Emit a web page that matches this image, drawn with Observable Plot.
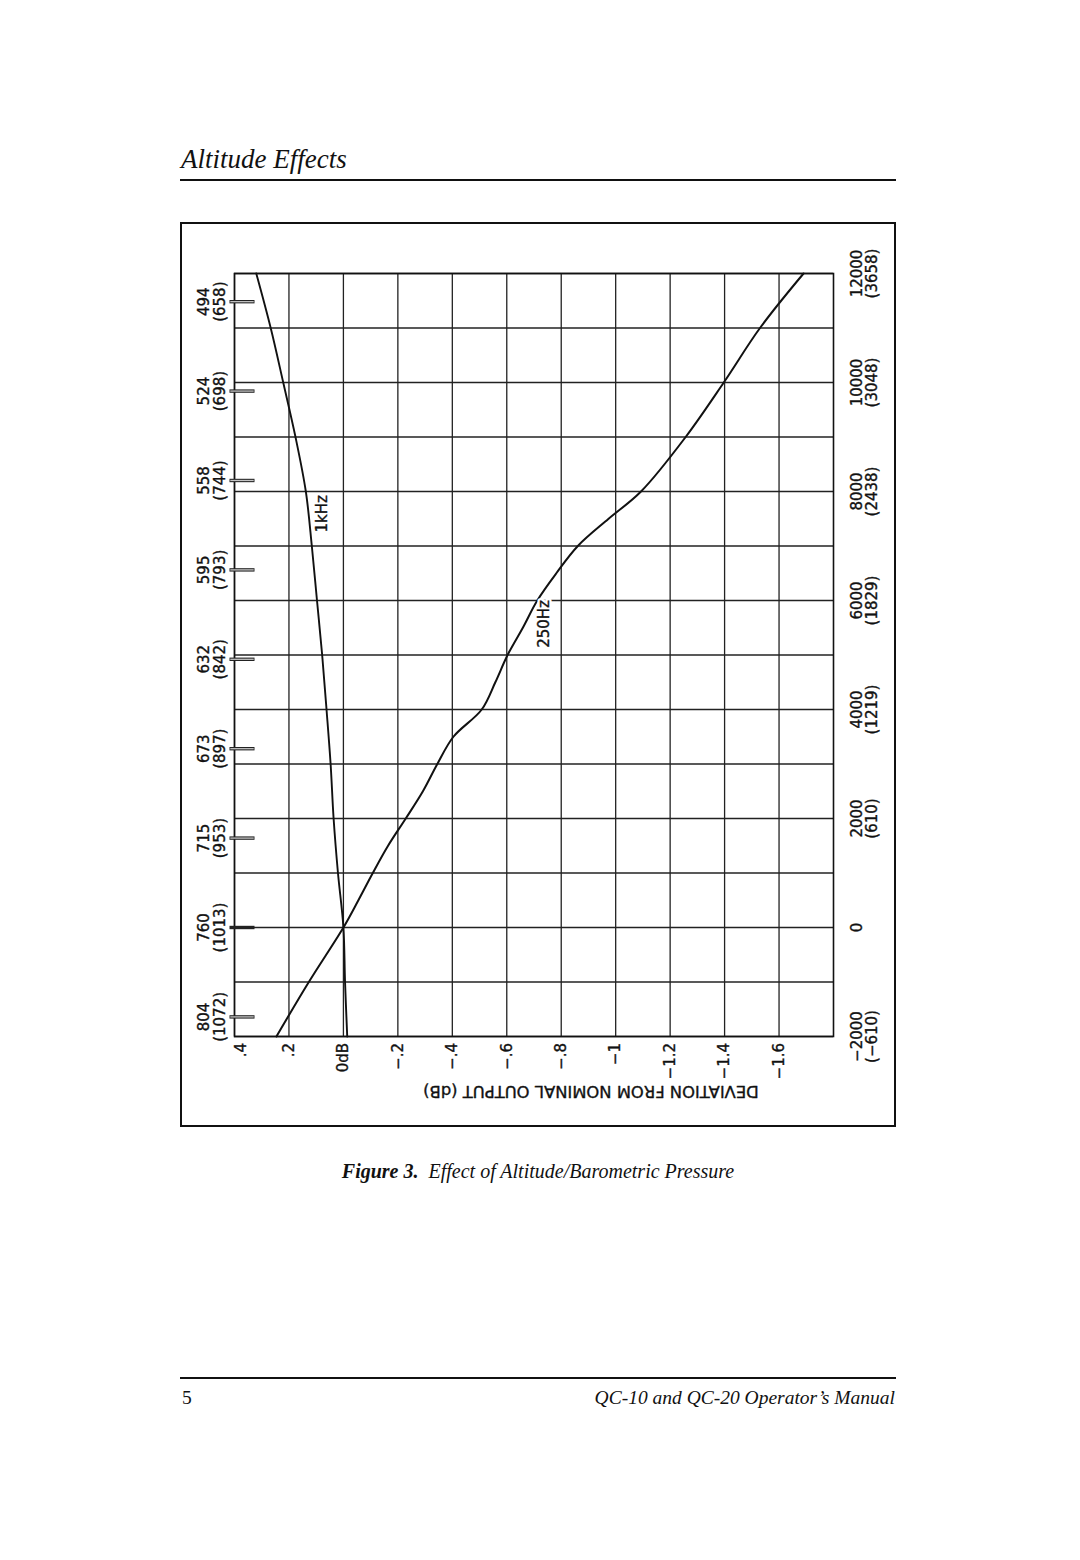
<!DOCTYPE html>
<html>
<head>
<meta charset="utf-8">
<script src="https://cdn.jsdelivr.net/npm/d3@7"></script>
<script src="https://cdn.jsdelivr.net/npm/@observablehq/plot@0.6"></script>
<style>
html, body { margin: 0; padding: 0; background: #fff; }
#page { position: relative; width: 1080px; height: 1560px; background: #fff; overflow: hidden; }
.serif { font-family: "Liberation Serif", "Times New Roman", serif; color: #111; }
#title { position: absolute; left: 181px; top: 145px; font-size: 27px; line-height: 28px; font-style: italic; white-space: nowrap; }
.rule { position: absolute; left: 180px; width: 716px; height: 2px; background: #111; }
#frame { position: absolute; left: 180px; top: 222px; width: 716px; height: 905px; border: 2px solid #111; box-sizing: border-box; }
#frame svg { position: absolute; left: 0; top: 0; }
#caption { position: absolute; left: 180px; width: 716px; top: 1161px; text-align: center; font-size: 20px; line-height: 20px; font-style: italic; white-space: nowrap; }
#pagenum { position: absolute; left: 182px; top: 1388px; font-size: 19.5px; line-height: 20px; }
#manual { position: absolute; right: 185px; top: 1388px; font-size: 19.5px; line-height: 20px; font-style: italic; white-space: nowrap; }
</style>
</head>
<body>
<div id="page">
  <div id="title" class="serif">Altitude Effects</div>
  <div class="rule" style="top:179px"></div>
  <div id="frame"></div>
  <div id="caption" class="serif"><b>Figure 3.</b>&nbsp; Effect of Altitude/Barometric Pressure</div>
  <div class="rule" style="top:1377px"></div>
  <div id="pagenum" class="serif">5</div>
  <div id="manual" class="serif">QC-10 and QC-20 Operator’s Manual</div>
</div>
<script>
// ---- Data ----
// Deviation axis (dB)
const devTicks = [0.4, 0.2, 0, -0.2, -0.4, -0.6, -0.8, -1, -1.2, -1.4, -1.6];
const devLabels = [".4", ".2", "0dB", "−.2", "−.4", "−.6", "−.8", "−1", "−1.2", "−1.4", "−1.6"];
const devTitle = "DEVIATION FROM NOMINAL OUTPUT (dB)";

// Altitude axis (feet) with metres in parentheses
const altGridFt = [-2000, -1000, 0, 1000, 2000, 3000, 4000, 5000, 6000, 7000, 8000, 9000, 10000, 11000, 12000];
const altTickFt = [-2000, 0, 2000, 4000, 6000, 8000, 10000, 12000];
const altTickM = [-610, null, 610, 1219, 1829, 2438, 3048, 3658];

// Barometric pressure ticks: mmHg (hPa) at altitudes in metres
const pressureM = [-500, 0, 500, 1000, 1500, 2000, 2500, 3000, 3500];
const pressureMmHg = [804, 760, 715, 673, 632, 595, 558, 524, 494];
const pressureHPa = [1072, 1013, 953, 897, 842, 793, 744, 698, 658];

// 1 kHz curve
const alt1k = [-2000, -1000, 0, 1000, 2000, 3000, 4000, 5000, 6000, 7000, 8000, 9000, 10000, 11000, 12000];
const dev1k = [-0.014, -0.006, 0, 0.020, 0.036, 0.047, 0.062, 0.078, 0.097, 0.116, 0.138, 0.176, 0.221, 0.267, 0.320];

// 250 Hz curve
const alt250 = [-2000, -1000, 0, 500, 1000, 1500, 2000, 2500, 3000, 3500, 4000, 4500, 5000, 5500, 6000, 6500, 7000, 7500, 8000, 9000, 10000, 11000, 12000];
const dev250 = [0.246, 0.127, 0, -0.055, -0.108, -0.164, -0.229, -0.292, -0.345, -0.404, -0.508, -0.558, -0.603, -0.659, -0.712, -0.782, -0.861, -0.974, -1.093, -1.257, -1.397, -1.530, -1.690];

// Curve labels
const curveNames = ["1kHz", "250Hz"];
const curveLabelAlt = [7590, 5570];
const curveLabelDev = [0.077, -0.739];

// ---- Tables built from the arrays ----
const FT_PER_M = 3.28084;
const pressureRows = pressureM.map((m, i) => ({ft: m * FT_PER_M, mmHg: pressureMmHg[i], hpa: pressureHPa[i]}));
const altRows = altTickFt.map((ft, i) => ({ft, label: altTickM[i] === null ? String(ft) : `${String(ft).replace("-", "−")}\n(${String(altTickM[i]).replace("-", "−")})`}));
const devRows = devTicks.map((d, i) => ({dev: d, label: devLabels[i]}));
const rows1k = alt1k.map((a, i) => ({alt: a, dev: dev1k[i]}));
const rows250 = alt250.map((a, i) => ({alt: a, dev: dev250[i]}));
const labelRows = curveNames.map((n, i) => ({name: n, alt: curveLabelAlt[i], dev: curveLabelDev[i]}));

const ink = "#111";
const heavy = {fill: ink, stroke: ink, strokeWidth: 0.35};
const chart = Plot.plot({
  width: 712,
  height: 901,
  marginLeft: 52,
  marginTop: 49,
  marginRight: 61,
  marginBottom: 89,
  x: {domain: [0.4, -1.8], axis: null},
  y: {domain: [-2000, 12000], axis: null},
  style: {fontFamily: "'DejaVu Sans', sans-serif", fontSize: "15px", color: ink, background: "transparent"},
  marks: [
    Plot.ruleX(devTicks, {stroke: "#222", strokeWidth: 1.3}),
    Plot.ruleY(altGridFt, {stroke: "#222", strokeWidth: 1.3}),
    Plot.frame({stroke: ink, strokeWidth: 1.6}),
    // pressure tick bars (outlined)
    Plot.ruleY(pressureRows, {y: "ft", stroke: "#222", strokeWidth: 3.4, insetLeft: -4.5, insetRight: 578.5}),
    Plot.ruleY(pressureRows, {y: "ft", stroke: d => d.mmHg === 760 ? "#222" : "#c4c4c4", strokeWidth: 1.3, insetLeft: -3.7, insetRight: 579.3}),
    Plot.text(pressureRows, {y: "ft", text: d => `${d.mmHg}\n(${d.hpa})`, frameAnchor: "left", dx: -23, rotate: -90, textAnchor: "middle", lineAnchor: "middle", lineHeight: 1.07, ...heavy}),
    // deviation tick labels (first one nudged inward as in the original)
    Plot.text(devRows.slice(0, 1), {x: "dev", text: "label", frameAnchor: "bottom", dx: 7, dy: 6.5, rotate: -90, textAnchor: "end", lineAnchor: "middle", ...heavy}),
    Plot.text(devRows.slice(1), {x: "dev", text: "label", frameAnchor: "bottom", dy: 6.5, rotate: -90, textAnchor: "end", lineAnchor: "middle", ...heavy}),
    Plot.text([devTitle], {text: d => d, frameAnchor: "bottom", dx: 57, dy: 55, rotate: 180, lineAnchor: "middle", fontSize: 16.4, ...heavy}),
    // altitude labels
    Plot.text(altRows, {y: "ft", text: "label", frameAnchor: "right", dx: 18, rotate: -90, textAnchor: "middle", lineAnchor: "top", lineHeight: 1.0, ...heavy}),
    // curves
    Plot.line(rows1k, {x: "dev", y: "alt", stroke: ink, strokeWidth: 1.9, curve: "catmull-rom"}),
    Plot.line(rows250, {x: "dev", y: "alt", stroke: ink, strokeWidth: 2, curve: "catmull-rom"}),
    Plot.text(labelRows, {x: "dev", y: "alt", text: "name", rotate: -90, fill: "white", stroke: "white", strokeWidth: 5, fontSize: 15}),
    Plot.text(labelRows, {x: "dev", y: "alt", text: "name", rotate: -90, fontSize: 15, ...heavy})
  ]
});
document.getElementById("frame").appendChild(chart);
</script>
</body>
</html>
